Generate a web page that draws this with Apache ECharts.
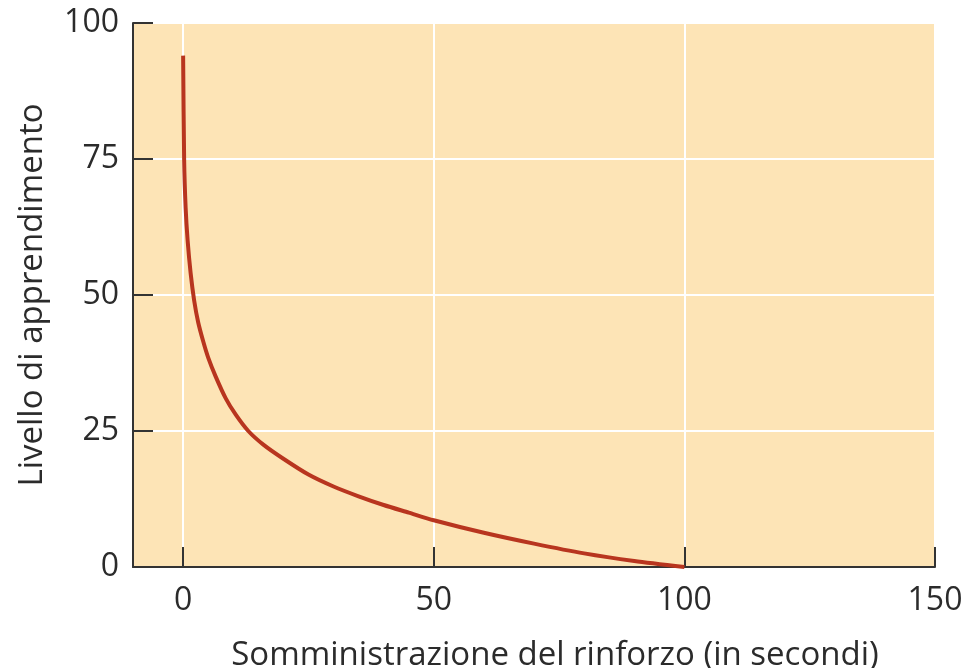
<!DOCTYPE html>
<html>
<head>
<meta charset="utf-8">
<script src="https://cdn.jsdelivr.net/npm/echarts@6/dist/echarts.min.js"></script>
<style>html,body{margin:0;padding:0;background:#fff}#c{width:970px;height:668px}</style>
</head>
<body>
<div id="c"></div>
<script>
const xTicks = [0, 50, 100, 150];
const yTicks = [0, 25, 50, 75, 100];
const delaySec = [0, 0.2, 0.5, 0.9, 1.5, 2.2, 3, 4, 5, 6.5, 8.5, 10.5, 13, 16, 20, 25, 30, 35, 40, 45, 50, 60, 70, 80, 90, 100];
const learning = [94, 75, 66, 60, 54, 49, 45, 41.5, 38.5, 35, 31, 28, 25, 22.5, 19.9, 17.0, 14.8, 13.0, 11.4, 10.0, 8.6, 6.3, 4.3, 2.5, 1.1, 0];
const xTitle = 'Somministrazione del rinforzo (in secondi)';
const yTitle = 'Livello di apprendimento';

const FONT = 'Open Sans';
const TXT = '#2b2b2b';
const chart = echarts.init(document.getElementById('c'));
chart.setOption({
  animation: false,
  backgroundColor: '#ffffff',
  grid: {
    left: 133, right: 35, top: 23, bottom: 101,
    containLabel: false, outerBoundsMode: 'none',
    show: true, backgroundColor: '#FDE4B6', borderWidth: 0
  },
  xAxis: {
    type: 'value', min: -10, max: 150,
    name: xTitle, nameLocation: 'middle', nameGap: 72,
    nameTextStyle: { fontFamily: FONT, fontSize: 33, color: TXT, padding: [0, 0, 0, 42] },
    axisLine: { onZero: false, lineStyle: { color: '#333', width: 2 } },
    axisTick: { inside: true, length: 20, customValues: xTicks, lineStyle: { color: '#333', width: 2 } },
    axisLabel: { customValues: xTicks, margin: 18, fontFamily: FONT, fontSize: 32, color: TXT },
    splitLine: { show: true, lineStyle: { color: '#ffffff', width: 2 } }
  },
  yAxis: {
    type: 'value', min: 0, max: 100, interval: 25,
    name: yTitle, nameLocation: 'middle', nameGap: 84,
    nameTextStyle: { fontFamily: FONT, fontSize: 33, color: TXT },
    axisLine: { show: true, onZero: false, lineStyle: { color: '#333', width: 2 } },
    axisTick: { show: true, inside: true, length: 20, lineStyle: { color: '#333', width: 2 } },
    axisLabel: { margin: 14, fontFamily: FONT, fontSize: 32, color: TXT },
    splitLine: { show: true, lineStyle: { color: '#ffffff', width: 2 } }
  },
  series: [{
    type: 'line',
    data: delaySec.map((x, i) => [x, learning[i]]),
    showSymbol: false,
    smooth: 0.25,
    lineStyle: { color: '#B8351F', width: 4, cap: 'butt' },
    z: 5
  }]
});
</script>
</body>
</html>
